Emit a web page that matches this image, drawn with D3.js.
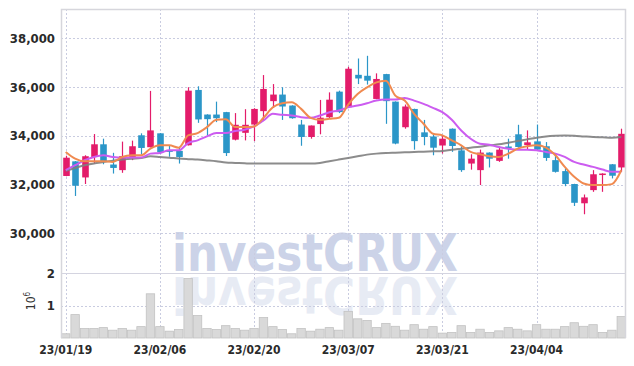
<!DOCTYPE html>
<html>
<head>
<meta charset="utf-8">
<script src="https://cdn.jsdelivr.net/npm/d3@7"></script>
<style>
  html, body { margin: 0; padding: 0; background: #fff; }
  svg { display: block; }
  text { font-family: "DejaVu Sans Condensed", "DejaVu Sans", sans-serif; }
</style>
</head>
<body>
<svg id="chart" width="634" height="366"></svg>
<script>
const dates = ["23/01/19","23/01/20","23/01/25","23/01/26","23/01/27","23/01/30","23/01/31","23/02/01","23/02/02","23/02/03",
  "23/02/06","23/02/07","23/02/08","23/02/09","23/02/10","23/02/13","23/02/14","23/02/15","23/02/16","23/02/17",
  "23/02/20","23/02/21","23/02/22","23/02/23","23/02/24","23/02/27","23/02/28","23/03/02","23/03/03","23/03/06",
  "23/03/07","23/03/08","23/03/09","23/03/10","23/03/13","23/03/14","23/03/15","23/03/16","23/03/17","23/03/20",
  "23/03/21","23/03/22","23/03/23","23/03/24","23/03/27","23/03/28","23/03/29","23/03/30","23/03/31","23/04/03",
  "23/04/04","23/04/05","23/04/06","23/04/07","23/04/10","23/04/11","23/04/12","23/04/13","23/04/14","23/04/17"];

const open  = [32350,32950,32290,33130,33650,32820,32590,33130,34020,33530,
  34100,33400,33380,33610,35880,34870,34870,34970,33840,34120,
  34460,35010,35420,35690,35240,34460,33950,34480,34760,35810,
  35170,36500,36460,35510,36530,35400,34350,35100,34140,33970,
  33600,34290,33400,32860,32590,33310,32970,33560,34060,33620,
  33770,33570,33000,32550,32020,31230,31770,32400,32830,32700];
const high  = [33180,32960,33200,34070,33880,33300,33760,33800,34100,35840,
  34110,33590,33540,35990,36030,34880,35400,34980,34930,35090,
  35130,36490,36120,35990,35250,34650,34420,35470,35780,35850,
  36830,37170,37280,36560,36540,35410,35280,35110,34650,34060,
  34010,34300,33570,33240,33430,33320,33540,33880,34450,34220,
  34460,33740,33290,32660,32030,31590,32590,32460,32840,34290];
const low   = [32340,31530,32020,32860,32830,32450,32480,33000,33240,33520,
  33270,33140,32860,33600,34530,34000,34560,33170,33810,33810,
  33780,34600,35140,34650,34700,33590,33880,34060,34700,34930,
  35170,36120,36100,35500,34490,33650,34290,33430,33610,33200,
  33270,33340,32520,32610,31980,32700,32930,33060,33510,33430,
  33400,32970,32490,31930,31120,30780,31700,31700,32250,32520];
const close = [33100,31950,33160,33650,32950,32680,33170,33570,33500,34220,
  33320,33360,33130,35850,34670,34680,34720,33290,34450,34450,
  35100,35920,35690,35200,34720,33950,34420,34740,35480,34970,
  36750,36350,36260,36330,35420,33680,35200,33780,33950,33510,
  33880,33580,32590,33060,33310,33060,33430,33520,33540,33730,
  33430,33090,32520,32020,31250,31470,32420,32450,32360,34080];
// volume in millions of shares
const volume = [0.13,0.72,0.29,0.29,0.32,0.24,0.29,0.24,0.35,1.36,
  0.35,0.21,0.26,1.83,0.69,0.29,0.26,0.38,0.29,0.24,
  0.29,0.63,0.35,0.26,0.13,0.29,0.21,0.27,0.32,0.24,
  0.82,0.59,0.54,0.32,0.45,0.36,0.24,0.41,0.27,0.35,
  0.15,0.17,0.38,0.17,0.27,0.17,0.22,0.32,0.27,0.22,
  0.41,0.27,0.27,0.35,0.47,0.36,0.41,0.17,0.24,0.66];
const maShort = [33335,33063,32954,32954,32954,32927,33131,33199,33199,33471,
  33607,33607,33512,34015,34110,34355,34654,34682,34355,34355,
  34382,34736,35171,35334,35375,35103,34736,34654,34695,34736,
  35280,35715,35987,36191,36259,35647,35443,34899,34491,34083,
  34015,33811,33607,33335,33240,33158,33131,33267,33471,33566,
  33607,33512,33199,32723,32315,32043,31975,31975,32016,32587];
const maMid = [32587,32791,32995,33131,33199,33131,33104,33104,33104,33267,
  33294,33403,33403,33702,33811,33974,34110,34110,34192,34246,
  34382,34627,34899,34858,34831,34763,34736,34831,34967,35035,
  35171,35239,35334,35443,35484,35484,35552,35443,35307,35144,
  34967,34654,34219,33879,33675,33634,33539,33471,33430,33430,
  33403,33335,33267,33131,32927,32818,32723,32614,32519,32519];
const maLong = [32560,32680,32791,32860,32927,32980,33022,33060,33090,33158,
  33131,33100,33063,33040,33022,32990,32954,32900,32886,32870,
  32859,32859,32859,32859,32859,32859,32859,32886,32954,33022,
  33090,33158,33226,33267,33294,33308,33322,33335,33349,33362,
  33376,33430,33471,33512,33553,33607,33648,33716,33784,33852,
  33920,33974,34002,34015,34002,33974,33947,33934,33920,33947];
const priceTicks = [30000,32000,34000,36000,38000];
const volumeTicks = [1,2];
const tickIdx = [0,10,20,30,40,50];

const svg = d3.select("#chart");
const L = 61, R = 626, T = 9, MID = 273, B = 338;
const n = dates.length;

const x = d3.scaleBand().domain(d3.range(n)).range([L, R]).paddingInner(0).paddingOuter(0);
const xc = i => x(i) + x.bandwidth() / 2;
const y = d3.scaleLinear().domain([28370, 39200]).range([MID, T]);
const yv = d3.scaleLinear().domain([0, 2]).range([B, MID]);

// watermark
const wm = svg.append("g");
wm.append("text").attr("x", 172).attr("y", 271)
  .attr("textLength", 286).attr("lengthAdjust", "spacingAndGlyphs")
  .style("font-family", "'DejaVu Sans', sans-serif").style("font-weight", "bold")
  .style("font-size", "51px").attr("fill", "#ccd3e8").text("investCRUX");
wm.append("text").attr("x", 172).attr("y", 271)
  .attr("transform", `translate(0,${2*274}) scale(1,-1)`)
  .attr("textLength", 286).attr("lengthAdjust", "spacingAndGlyphs")
  .style("font-family", "'DejaVu Sans', sans-serif").style("font-weight", "bold")
  .style("font-size", "51px").attr("fill", "#ccd3e8").attr("opacity", 0.45).text("investCRUX");

// grid
const grid = svg.append("g").attr("stroke", "#c9cce0").attr("stroke-dasharray", "2,2").attr("stroke-width", 1);
grid.selectAll("line.h").data(priceTicks).join("line")
  .attr("x1", L).attr("x2", R).attr("y1", d => Math.round(y(d)) + 0.5).attr("y2", d => Math.round(y(d)) + 0.5);
grid.selectAll("line.vg").data(volumeTicks.filter(d => d < 2)).join("line").attr("class", "vg")
  .attr("x1", L).attr("x2", R).attr("y1", d => Math.round(yv(d)) + 0.5).attr("y2", d => Math.round(yv(d)) + 0.5);
grid.selectAll("line.xg").data(tickIdx).join("line").attr("class", "xg")
  .attr("x1", d => Math.round(xc(d)) + 0.5).attr("x2", d => Math.round(xc(d)) + 0.5).attr("y1", T).attr("y2", B);

// pane separator
svg.append("line").attr("x1", L).attr("x2", R).attr("y1", MID + 0.5).attr("y2", MID + 0.5)
  .attr("stroke", "#d4d4e0").attr("stroke-width", 1);

// volume bars
svg.append("g").selectAll("rect").data(d3.range(n)).join("rect")
  .attr("x", i => x(i) + 0.5).attr("width", x.bandwidth() - 1)
  .attr("y", i => yv(volume[i])).attr("height", i => yv(0) - yv(volume[i]))
  .attr("fill", "#d9d9d9").attr("stroke", "#c2c2c2").attr("stroke-width", 0.8);

// candles
const up = "#e31c6a", down = "#2b96c8";
const cg = svg.append("g");
const candles = cg.selectAll("g").data(d3.range(n)).join("g");
candles.append("line")
  .attr("x1", i => Math.round(xc(i)) + 0.5).attr("x2", i => Math.round(xc(i)) + 0.5)
  .attr("y1", i => y(high[i])).attr("y2", i => y(low[i]))
  .attr("stroke", i => close[i] >= open[i] ? up : down).attr("stroke-width", 1.2);
const bw = 6.6;
candles.append("rect")
  .attr("x", i => Math.round(xc(i)) + 0.5 - bw / 2).attr("width", bw)
  .attr("y", i => y(Math.max(open[i], close[i])))
  .attr("height", i => Math.max(1.5, Math.abs(y(open[i]) - y(close[i]))))
  .attr("fill", i => close[i] >= open[i] ? up : down);

// moving averages
const lineGen = arr => d3.line().x((d, i) => xc(i)).y(d => y(d)).curve(d3.curveMonotoneX)(arr);
svg.append("path").attr("d", lineGen(maLong)).attr("fill", "none").attr("stroke", "#808080").attr("stroke-width", 2).attr("opacity", 0.9);
svg.append("path").attr("d", lineGen(maMid)).attr("fill", "none").attr("stroke", "#cc5cf0").attr("stroke-width", 2);
svg.append("path").attr("d", lineGen(maShort)).attr("fill", "none").attr("stroke", "#f08a50").attr("stroke-width", 2);

// frame
svg.append("path").attr("d", `M${L+0.5},${B} V${T+0.5} H${R-0.5} V${B}`)
  .attr("fill", "none").attr("stroke", "#d6d6dc").attr("stroke-width", 1.5);

// axes
const labelStyle = sel => sel.style("font-size", "13px").style("font-weight", "bold").attr("fill", "#2a2a2a")
  .style("font-family", "'DejaVu Sans Condensed', sans-serif");
const axY = svg.append("g").attr("transform", `translate(${L},0)`)
  .call(d3.axisLeft(y).tickValues(priceTicks).tickFormat(d3.format(",")).tickSize(0).tickPadding(6));
axY.select(".domain").remove();
axY.selectAll("text").call(labelStyle);

const axV = svg.append("g").attr("transform", `translate(${L},0)`)
  .call(d3.axisLeft(yv).tickValues(volumeTicks).tickFormat(d3.format("d")).tickSize(0).tickPadding(6));
axV.select(".domain").remove();
axV.selectAll("text").call(labelStyle);

svg.append("text").attr("transform", "translate(35,301) rotate(-90)").attr("text-anchor", "middle")
  .style("font-size", "12px").attr("fill", "#333")
  .html('10<tspan dy="-5" font-size="8px">6</tspan>');

const axX = svg.append("g").attr("transform", `translate(0,${B})`)
  .call(d3.axisBottom(x).tickValues(tickIdx).tickFormat(i => dates[i]).tickSize(0).tickPadding(7));
axX.select(".domain").remove();
axX.selectAll("text").call(labelStyle).style("font-size", "12px");
</script>
</body>
</html>
